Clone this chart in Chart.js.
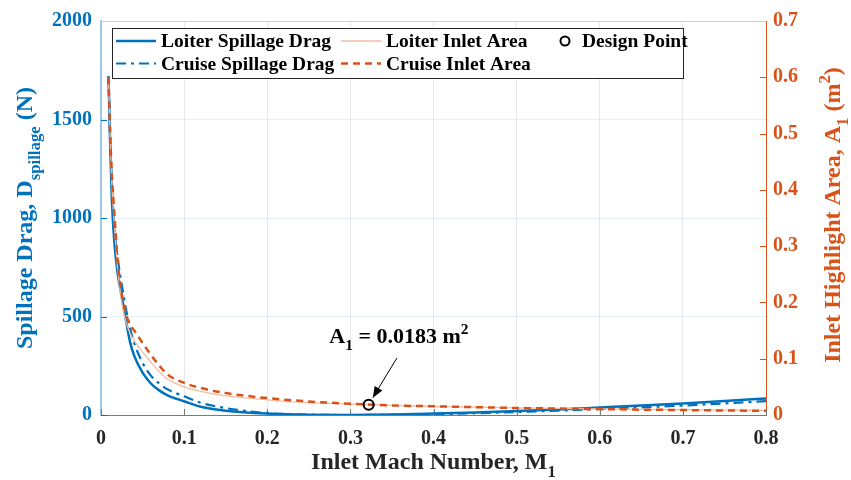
<!DOCTYPE html>
<html lang="en">
<head>
<meta charset="UTF-8">
<title>Spillage Drag and Inlet Area</title>
<script src="https://cdn.jsdelivr.net/npm/chart.js"></script>
<style>
  html, body { margin: 0; padding: 0; background: #fff; }
  #chart { display: block; }
</style>
</head>
<body>
<canvas id="chart" width="851" height="480"></canvas>
<script>
// Inlet Mach number samples
const machNumbers = [0.009, 0.011, 0.013, 0.016, 0.02, 0.025, 0.03, 0.035, 0.04, 0.05,
                     0.06, 0.07, 0.08, 0.1, 0.12, 0.15, 0.2, 0.25, 0.3, 0.35,
                     0.4, 0.45, 0.5, 0.55, 0.6, 0.65, 0.7, 0.75, 0.8];
// spillage drag (N)
const loiterDrag = [1720, 1380, 1100, 880, 720, 600, 480, 370, 300, 215,
                    160, 125, 100, 70, 42, 22, 7, 1, 0, 2,
                    7, 13, 20, 28, 38, 48, 59, 71, 84];
const cruiseDrag = [1720, 1420, 1180, 960, 800, 660, 540, 440, 365, 265,
                    200, 160, 130, 95, 62, 35, 10, 2, 0, 1,
                    4, 9, 15, 22, 30, 39, 48, 59, 70];
// inlet highlight area (m^2)
const loiterArea = [0.6, 0.49, 0.41, 0.34, 0.26, 0.2, 0.165, 0.145, 0.132, 0.112,
                    0.094, 0.077, 0.064, 0.05, 0.042, 0.034, 0.027, 0.022, 0.0195, 0.017,
                    0.0155, 0.014, 0.0128, 0.0118, 0.0108, 0.01, 0.0093, 0.0087, 0.0082];
const cruiseArea = [0.6, 0.5, 0.43, 0.36, 0.275, 0.215, 0.18, 0.16, 0.15, 0.128,
                    0.107, 0.088, 0.072, 0.057, 0.048, 0.039, 0.03, 0.024, 0.02, 0.017,
                    0.0155, 0.014, 0.0125, 0.0115, 0.0105, 0.0095, 0.0088, 0.008, 0.0075];
const designMach = [0.322];
const designArea = [0.0183];

const xTickLabels = ['0', '0.1', '0.2', '0.3', '0.4', '0.5', '0.6', '0.7', '0.8'];
const dragTickLabels = ['0', '500', '1000', '1500', '2000'];
const areaTickLabels = ['0', '0.1', '0.2', '0.3', '0.4', '0.5', '0.6', '0.7'];

const BLUE = '#0072BD';
const ORANGE = '#D95319';
const PALE_ORANGE = '#F3BCA3';
const DARK = '#262626';
const SERIF = '"Liberation Serif", "Times New Roman", serif';

function pts(xs, ys) {
  return xs.map((x, i) => ({ x: x, y: ys[i] }));
}

function font(size) {
  return 'bold ' + size + 'px ' + SERIF;
}

// text with subscripts / superscripts, centred on (cx, cy) baseline, optionally rotated
function drawRich(ctx, runs, cx, cy, size, color, angle) {
  ctx.save();
  ctx.translate(cx, cy);
  ctx.rotate(angle || 0);
  ctx.fillStyle = color;
  ctx.textBaseline = 'alphabetic';
  ctx.textAlign = 'left';
  let total = 0;
  const widths = runs.map(r => {
    ctx.font = font(r.sub || r.sup ? size * 0.7 : size);
    const w = ctx.measureText(r.t).width;
    total += w;
    return w;
  });
  let x = -total / 2;
  runs.forEach((r, i) => {
    ctx.font = font(r.sub || r.sup ? size * 0.7 : size);
    const dy = r.sub ? size * 0.32 : (r.sup ? -size * 0.42 : 0);
    ctx.fillText(r.t, x, dy);
    x += widths[i];
  });
  ctx.restore();
}

const overlay = {
  id: 'overlay',
  beforeDatasetsDraw(chart) {
    const ctx = chart.ctx;
    const a = chart.chartArea;
    const sx = chart.scales.x, sy = chart.scales.y, sy1 = chart.scales.y1;
    ctx.save();
    ctx.lineWidth = 1;
    // inward tick marks
    ctx.strokeStyle = '#7a7a7a';
    sx.ticks.forEach(t => {
      const px = Math.round(sx.getPixelForValue(t.value)) + 0.5;
      ctx.beginPath(); ctx.moveTo(px, a.bottom); ctx.lineTo(px, a.bottom - 6); ctx.stroke();
    });
    ctx.strokeStyle = BLUE;
    sy.ticks.forEach(t => {
      const py = Math.round(sy.getPixelForValue(t.value)) + 0.5;
      ctx.beginPath(); ctx.moveTo(a.left, py); ctx.lineTo(a.left + 6, py); ctx.stroke();
    });
    ctx.strokeStyle = ORANGE;
    sy1.ticks.forEach(t => {
      const py = Math.round(sy1.getPixelForValue(t.value)) + 0.5;
      ctx.beginPath(); ctx.moveTo(a.right, py); ctx.lineTo(a.right - 6, py); ctx.stroke();
    });
    // top edge of the box
    ctx.strokeStyle = '#d0d0d0';
    ctx.beginPath(); ctx.moveTo(a.left, a.top + 0.5); ctx.lineTo(a.right, a.top + 0.5); ctx.stroke();
    ctx.restore();
  },
  afterDraw(chart) {
    const ctx = chart.ctx;
    const a = chart.chartArea;
    const sx = chart.scales.x, sy1 = chart.scales.y1;
    const ds = chart.data.datasets;

    // axis titles
    drawRich(ctx, [{ t: 'Inlet Mach Number, M' }, { t: '1', sub: true }],
      (a.left + a.right) / 2, 469, 24, DARK, 0);
    drawRich(ctx, [{ t: 'Spillage Drag, D' }, { t: 'spillage', sub: true }, { t: ' (N)' }],
      32, (a.top + a.bottom) / 2, 24, BLUE, -Math.PI / 2);
    drawRich(ctx, [{ t: 'Inlet Highlight Area, A' }, { t: '1', sub: true }, { t: ' (m' },
      { t: '2', sup: true }, { t: ')' }],
      840, (a.top + a.bottom) / 2 - 3, 24, ORANGE, -Math.PI / 2);

    // annotation for the design point
    const tipX = sx.getPixelForValue(designMach[0] + 0.005);
    const tipY = sy1.getPixelForValue(designArea[0] + 0.0125);
    const tailX = sx.getPixelForValue(designMach[0] + 0.034);
    const tailY = sy1.getPixelForValue(designArea[0] + 0.083);
    ctx.save();
    ctx.strokeStyle = '#000';
    ctx.fillStyle = '#000';
    ctx.lineWidth = 1;
    ctx.beginPath(); ctx.moveTo(tailX, tailY); ctx.lineTo(tipX, tipY); ctx.stroke();
    const ang = Math.atan2(tipY - tailY, tipX - tailX);
    const hl = 11, hw = 4.5;
    ctx.beginPath();
    ctx.moveTo(tipX, tipY);
    ctx.lineTo(tipX - hl * Math.cos(ang) + hw * Math.sin(ang), tipY - hl * Math.sin(ang) - hw * Math.cos(ang));
    ctx.lineTo(tipX - hl * Math.cos(ang) - hw * Math.sin(ang), tipY - hl * Math.sin(ang) + hw * Math.cos(ang));
    ctx.closePath(); ctx.fill();
    ctx.restore();
    drawRich(ctx, [{ t: 'A' }, { t: '1', sub: true }, { t: ' = ' + designArea[0] + ' m' }, { t: '2', sup: true }],
      tailX + 2, tailY - 15, 22, '#000', 0);

    // legend box
    const bx = 112.5, by = 28.5, bw = 571, bh = 50;
    ctx.save();
    ctx.fillStyle = '#fff';
    ctx.fillRect(bx, by, bw, bh);
    ctx.strokeStyle = '#262626';
    ctx.lineWidth = 1;
    ctx.strokeRect(bx, by, bw, bh);
    const rows = [41, 63.5];
    const items = [
      { ds: ds[4], x: 116, row: 0 },
      { ds: ds[3], x: 116, row: 1 },
      { ds: ds[2], x: 341, row: 0 },
      { ds: ds[1], x: 341, row: 1 }
    ];
    items.forEach(it => {
      const y = rows[it.row];
      ctx.save();
      ctx.strokeStyle = it.ds.borderColor;
      ctx.lineWidth = it.ds.borderWidth;
      ctx.setLineDash(it.ds.borderDash || []);
      ctx.beginPath(); ctx.moveTo(it.x, y); ctx.lineTo(it.x + 40, y); ctx.stroke();
      ctx.restore();
      ctx.fillStyle = '#000';
      ctx.font = font(19.5);
      ctx.textBaseline = 'middle';
      ctx.textAlign = 'left';
      ctx.fillText(it.ds.label, it.x + 45, y + 1);
    });
    const dp = ds[0];
    ctx.strokeStyle = dp.pointBorderColor;
    ctx.lineWidth = dp.pointBorderWidth;
    ctx.beginPath(); ctx.arc(565, rows[0], dp.pointRadius - 0.5, 0, Math.PI * 2); ctx.stroke();
    ctx.fillStyle = '#000';
    ctx.fillText(dp.label, 582, rows[0] + 1);
    ctx.restore();
  }
};

new Chart(document.getElementById('chart'), {
  type: 'line',
  data: {
    datasets: [
      {
        label: 'Design Point',
        data: pts(designMach, designArea),
        yAxisID: 'y1',
        showLine: false,
        pointRadius: 5,
        pointBorderWidth: 2,
        pointBorderColor: '#000',
        pointBackgroundColor: 'rgba(0,0,0,0)'
      },
      {
        label: 'Cruise Inlet Area',
        data: pts(machNumbers, cruiseArea),
        yAxisID: 'y1',
        borderColor: ORANGE,
        borderWidth: 2.5,
        borderDash: [7, 5],
        pointRadius: 0,
        cubicInterpolationMode: 'monotone'
      },
      {
        label: 'Loiter Inlet Area',
        data: pts(machNumbers, loiterArea),
        yAxisID: 'y1',
        borderColor: PALE_ORANGE,
        borderWidth: 1.3,
        pointRadius: 0,
        cubicInterpolationMode: 'monotone'
      },
      {
        label: 'Cruise Spillage Drag',
        data: pts(machNumbers, cruiseDrag),
        yAxisID: 'y',
        borderColor: BLUE,
        borderWidth: 2.2,
        borderDash: [10, 5, 3, 5],
        pointRadius: 0,
        cubicInterpolationMode: 'monotone'
      },
      {
        label: 'Loiter Spillage Drag',
        data: pts(machNumbers, loiterDrag),
        yAxisID: 'y',
        borderColor: BLUE,
        borderWidth: 2.5,
        pointRadius: 0,
        cubicInterpolationMode: 'monotone'
      }
    ]
  },
  options: {
    responsive: false,
    animation: false,
    devicePixelRatio: 1,
    layout: { padding: { top: 18, left: 0, right: 0, bottom: 0 }, autoPadding: false },
    plugins: { legend: { display: false }, tooltip: { enabled: false } },
    scales: {
      x: {
        type: 'linear',
        min: 0, max: 0.8,
        afterFit: s => { s.height = 65; },
        grid: { color: 'rgba(0,0,0,0.09)', drawTicks: false },
        border: { color: '#7a7a7a', width: 1 },
        ticks: {
          stepSize: 0.1, autoSkip: false, maxRotation: 0, padding: 12,
          color: DARK, font: { family: SERIF, size: 20, weight: 'bold' },
          callback: (v, i) => xTickLabels[i]
        }
      },
      y: {
        position: 'left',
        min: 0, max: 2000,
        afterFit: s => { s.width = 101; },
        grid: { color: 'rgba(0,114,189,0.1)', drawTicks: false },
        border: { color: '#9cc9e8', width: 2 },
        ticks: {
          stepSize: 500, padding: 9,
          color: BLUE, font: { family: SERIF, size: 20, weight: 'bold' },
          callback: (v, i) => dragTickLabels[i]
        }
      },
      y1: {
        position: 'right',
        min: 0, max: 0.7,
        afterFit: s => { s.width = 85; },
        grid: { display: false, drawTicks: false },
        border: { color: ORANGE, width: 1 },
        ticks: {
          stepSize: 0.1, padding: 7,
          color: ORANGE, font: { family: SERIF, size: 20, weight: 'bold' },
          callback: (v, i) => areaTickLabels[i]
        }
      }
    }
  },
  plugins: [overlay]
});
</script>
</body>
</html>
